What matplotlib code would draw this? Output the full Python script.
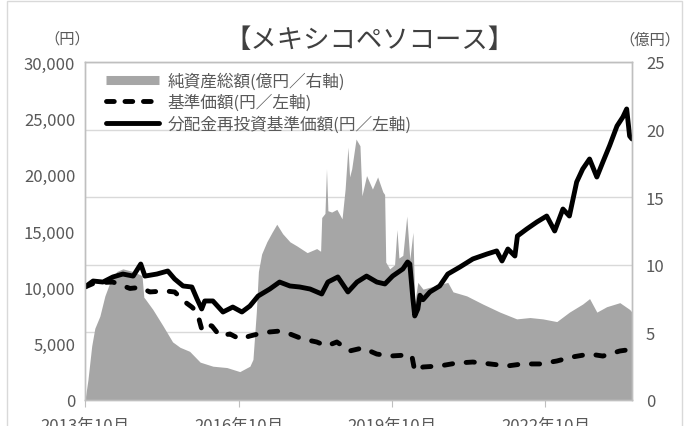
import matplotlib
matplotlib.use("Agg")
import matplotlib.pyplot as plt
from matplotlib.lines import Line2D
from matplotlib.patches import Rectangle
import pandas as pd

plt.rcParams['font.family'] = ['Noto Sans CJK JP', 'DejaVu Sans']

# 純資産総額 (億円, right axis)
nav_dates = ['2013-10-01', '2013-10-22', '2013-11-18', '2013-12-10', '2014-01-15', '2014-02-20',
             '2014-03-28', '2014-05-15', '2014-06-28', '2014-09-10', '2014-11-12', '2014-11-25',
             '2014-12-03', '2015-01-28', '2015-04-10', '2015-06-18', '2015-08-10', '2015-10-18',
             '2016-01-01', '2016-04-01', '2016-07-10', '2016-10-10', '2016-12-21', '2017-01-12',
             '2017-02-05', '2017-02-20', '2017-03-15', '2017-04-21', '2017-05-28', '2017-07-01',
             '2017-08-12', '2017-10-03', '2017-11-21', '2018-02-03', '2018-04-12', '2018-05-10',
             '2018-05-18', '2018-06-10', '2018-06-21', '2018-07-01', '2018-07-28', '2018-09-03',
             '2018-10-10', '2018-11-01', '2018-11-21', '2018-12-03', '2018-12-18', '2019-01-18',
             '2019-02-15', '2019-03-01', '2019-04-03', '2019-05-15', '2019-06-21', '2019-07-28',
             '2019-08-10', '2019-08-18', '2019-09-15', '2019-10-20', '2019-11-06', '2019-11-20',
             '2019-12-18', '2020-01-15', '2020-02-06', '2020-02-28', '2020-03-12', '2020-04-03',
             '2020-05-10', '2020-07-18', '2020-11-03', '2020-12-10', '2021-03-18', '2021-07-10',
             '2021-11-10', '2022-03-10', '2022-06-12', '2022-09-12', '2022-12-21', '2023-03-21',
             '2023-06-24', '2023-08-12', '2023-10-03', '2023-12-12', '2024-03-15', '2024-05-24',
             '2024-06-10']
nav_values = [0, 1.5, 4.0, 5.3, 6.2, 7.7,
              8.7, 9.5, 9.7, 9.5, 9.2, 7.6,
              7.5, 6.7, 5.5, 4.3, 3.9, 3.6,
              2.8, 2.5, 2.4, 2.1, 2.5, 3.0,
              6.5, 9.5, 10.8, 11.7, 12.4, 13.0,
              12.3, 11.7, 11.4, 10.9, 11.2, 11.0,
              13.5, 13.8, 17.1, 14.0, 13.9, 14.1,
              13.4, 15.6, 18.7, 16.5, 17.1, 19.3,
              18.8, 15.1, 16.6, 15.6, 16.5, 15.4,
              15.2, 10.2, 9.7, 10.0, 12.6, 10.5,
              10.7, 13.6, 10.4, 12.4, 7.2, 8.7,
              8.2, 8.4, 8.7, 8.0, 7.7, 7.1,
              6.5, 6.0, 6.1, 6.0, 5.8, 6.5,
              7.1, 7.5, 6.5, 6.9, 7.2, 6.7,
              6.5]

# 分配金再投資基準価額 (円, left axis)
reinv_dates = ['2013-10-01', '2013-11-28', '2014-02-06', '2014-04-18', '2014-06-28', '2014-09-10',
               '2014-11-03', '2014-12-03', '2015-02-26', '2015-05-15', '2015-07-03', '2015-09-01',
               '2015-11-03', '2015-12-10', '2016-01-12', '2016-02-03', '2016-04-01', '2016-06-12',
               '2016-08-21', '2016-10-25', '2016-12-21', '2017-02-18', '2017-05-12', '2017-07-21',
               '2017-10-03', '2017-12-12', '2018-02-24', '2018-05-18', '2018-07-01', '2018-09-10',
               '2018-11-21', '2019-01-25', '2019-04-03', '2019-06-15', '2019-08-12', '2019-10-06',
               '2019-12-18', '2020-01-21', '2020-02-06', '2020-02-28', '2020-03-12', '2020-04-03',
               '2020-04-18', '2020-05-10', '2020-06-28', '2020-09-06', '2020-11-03', '2021-01-28',
               '2021-05-01', '2021-08-10', '2021-10-18', '2021-11-25', '2022-01-06', '2022-02-25',
               '2022-03-15', '2022-05-21', '2022-08-01', '2022-10-10', '2022-12-06', '2023-02-03',
               '2023-03-21', '2023-05-12', '2023-06-24', '2023-08-12', '2023-10-03', '2023-11-15',
               '2024-01-03', '2024-02-24', '2024-04-06', '2024-05-03', '2024-05-24', '2024-06-10']
reinv_values = [10030, 10560, 10470, 10920, 11180, 11000,
                12070, 11000, 11180, 11450, 10740, 10120,
                10030, 8960, 8080, 8790, 8790, 7810,
                8250, 7810, 8340, 9230, 9850, 10470,
                10120, 10030, 9850, 9410, 10470, 10920,
                9590, 10470, 11000, 10470, 10300, 11000,
                11630, 12250, 12070, 8960, 7460, 8080,
                9300, 8900, 9590, 10120, 11180, 11800,
                12520, 12960, 13230, 12340, 13400, 12780,
                14560, 15180, 15800, 16330, 15000, 16950,
                16330, 19350, 20500, 21390, 19790, 21120,
                22600, 24320, 25120, 25830, 23430, 23170]

# 基準価額 (円, left axis)
base_dates = ['2013-10-01', '2013-12-10', '2014-04-18', '2014-08-18', '2014-11-03', '2015-01-06',
              '2015-04-25', '2015-07-03', '2015-09-15', '2015-11-03', '2015-12-10', '2016-01-12',
              '2016-02-03', '2016-03-25', '2016-05-21', '2016-08-01', '2016-10-10', '2016-12-21',
              '2017-02-18', '2017-05-12', '2017-07-21', '2017-10-03', '2018-01-03', '2018-04-12',
              '2018-06-21', '2018-09-03', '2018-12-03', '2019-03-06', '2019-06-15', '2019-09-15',
              '2020-01-15', '2020-02-20', '2020-03-12', '2020-05-10', '2020-09-06', '2021-01-06',
              '2021-05-01', '2021-09-01', '2022-01-01', '2022-04-21', '2022-08-21', '2022-12-21',
              '2023-04-12', '2023-08-12', '2023-11-15', '2024-03-15', '2024-06-10']
base_values = [10030, 10400, 10470, 9900, 10000, 9590,
               9680, 9590, 8700, 8250, 7810, 6300,
               6750, 6570, 5680, 5860, 5410, 5680,
               5860, 6040, 6120, 5860, 5410, 5150,
               4790, 5150, 4350, 4620, 4080, 3900,
               3990, 3950, 2570, 2930, 3020, 3280,
               3370, 3200, 3020, 3200, 3200, 3460,
               3820, 4080, 3900, 4350, 4500]

tick_dates = ['2013-10-01', '2016-10-01', '2019-10-01', '2022-10-01']
tick_labels = ['2013年10月', '2016年10月', '2019年10月', '2022年10月']

text_color = '#595959'
gray = '#a6a6a6'

fig = plt.figure(figsize=(6.86, 4.27), dpi=100)
ax = fig.add_axes([85 / 686, 26 / 427, 547 / 686, 338 / 427])
ax2 = ax.twinx()

# area on right axis, drawn behind the lines
ax2.fill_between(pd.to_datetime(nav_dates), nav_values, 0, color=gray, lw=0, zorder=1)
ax2.set_ylim(0, 25)
ax2.set_yticks(range(0, 26, 5))

ax.set_zorder(ax2.get_zorder() + 1)
ax.patch.set_visible(False)
ax.plot(pd.to_datetime(base_dates), base_values, color='black', lw=3.5,
        dashes=(1.7, 2.8), dash_capstyle='round', solid_joinstyle='round')
ax.plot(pd.to_datetime(reinv_dates), reinv_values, color='black', lw=3.5,
        solid_joinstyle='round', solid_capstyle='round')
ax.set_ylim(0, 30000)
ax.set_yticks(range(0, 30001, 5000))
ax.yaxis.set_major_formatter(matplotlib.ticker.StrMethodFormatter('{x:,.0f}'))
ax.set_xlim(pd.Timestamp('2013-10-01'), pd.Timestamp('2024-06-10'))
ax.set_xticks(pd.to_datetime(tick_dates))
ax.set_xticklabels(tick_labels)

# gridlines on the back axis so they sit behind the area
for v in range(5, 26, 5):
    ax2.axhline(v, color='#d9d9d9', lw=1, zorder=0)

for a in (ax, ax2):
    for s in a.spines.values():
        s.set_color('#bfbfbf')
        s.set_linewidth(1)
ax.tick_params(axis='y', length=0, pad=7, labelsize=12, labelcolor=text_color)
ax2.tick_params(axis='y', length=0, pad=10, labelsize=12, labelcolor=text_color)
ax.tick_params(axis='x', length=5, color='#bfbfbf', pad=7, labelsize=12, labelcolor=text_color)

handles = [Line2D([], [], color=gray, lw=6.5, solid_capstyle='butt'),
           Line2D([], [], color='black', lw=3.5, dashes=(1.6, 2.2), dash_capstyle='round'),
           Line2D([], [], color='black', lw=3.5, solid_capstyle='round')]
labels = ['純資産総額(億円／右軸)', '基準価額(円／左軸)', '分配金再投資基準価額(円／左軸)']
ax.legend(handles, labels, loc='upper left', bbox_to_anchor=(0.02, 1.0), frameon=False,
          fontsize=12, handlelength=3.2, handletextpad=0.5, labelspacing=0.25,
          labelcolor=text_color, borderaxespad=0.2)

fig.text(370 / 686, 1 - 40 / 427, '【メキシコペソコース】', ha='center', va='center',
         fontsize=19, color='#404040')
fig.text(67 / 686, 1 - 39 / 427, '（円）', ha='center', va='center', fontsize=11, color=text_color)
fig.text(650 / 686, 1 - 40 / 427, '（億円）', ha='center', va='center', fontsize=11, color=text_color)

fig.patches.append(Rectangle((7 / 686, -0.05), 675 / 686, 1.05 - 2 / 427, transform=fig.transFigure,
                             fill=False, edgecolor='#d9d9d9', lw=1))

fig.savefig('out.png', dpi=100)
